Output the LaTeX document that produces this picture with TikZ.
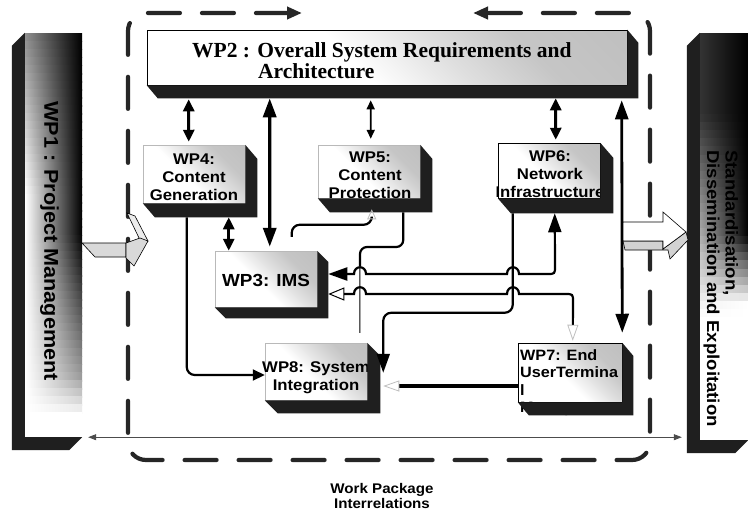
\documentclass[tikz,border=0pt]{standalone}
\usepackage{fontspec}
\newfontfamily\wpsans[FakeStretch=1.08]{Liberation Sans}
\newfontfamily\wpserif{Liberation Serif}
\usetikzlibrary{arrows.meta,calc}
\pgfdeclareverticalshading{facesh}{100bp}{color(0bp)=(white); color(45bp)=(white); color(58bp)=(gray!25); color(70bp)=(gray!45); color(100bp)=(gray!55)}
\newcommand\extrdr[3]{\fill[ext] (#1.north east) -- ++(#2,#3) -- ($(#1.south east)+(#2,#3)$) -- ($(#1.south west)+(#2,#3)$) -- (#1.south west) -- (#1.south east) -- cycle;}
\newcommand\extrdl[3]{\fill[ext] (#1.north west) -- ++(#2,#3) -- ($(#1.south west)+(#2,#3)$) -- ($(#1.south east)+(#2,#3)$) -- (#1.south east) -- (#1.south west) -- cycle;}
\begin{document}
\begin{tikzpicture}[x=1pt,y=-1pt,
  face/.style={rectangle, inner sep=0pt, shading=facesh, shading angle=-45, draw=gray!55, line width=0.5pt},
  sideface/.style={rectangle, inner sep=0pt, draw=none},
  ext/.style={fill=black!88},
  lbl/.style={inner sep=0pt, align=center, font=\wpsans\bfseries\fontsize{15.5}{18}\selectfont},
  conn/.style={line width=2.2pt, black},
  heavy/.style={line width=3pt, black},
  arrS/.tip={Triangle[length=9pt,width=8pt]},
  arrM/.tip={Triangle[length=12pt,width=11pt]},
  arrL/.tip={Triangle[length=19pt,width=13pt]},
  arrF/.tip={Triangle[open,length=16pt,width=11pt,color=gray!50,line width=0.8pt]},
  arrG/.tip={Triangle[open,length=10pt,width=9pt,color=gray!50,line width=0.8pt]},
  arrW/.tip={Triangle[fill=white,length=16pt,width=13pt,line width=1pt]},
  arrT/.tip={Triangle[length=8pt,width=6pt]},
  arrD/.tip={Triangle[length=15pt,width=12pt]}]
\useasboundingbox (0,0) rectangle (748,515);
\fill[white] (0,0) rectangle (748,515);

% dashed loop
\draw[line width=4.2pt, black!85, dash pattern=on 32pt off 22pt, line cap=round, rounded corners=18pt, {arrD}-{arrD}]
  (302,13) -- (128,13) -- (128,460) -- (650,460) -- (650,13) -- (473,13);

% WP1
\node[sideface, minimum width=57pt, minimum height=404pt] (wp1) at (53.5,235) {};
\foreach \i in {0,...,49}{
  \pgfmathsetmacro\myt{(\i+0.5)/50}
  \pgfmathsetmacro\dl{max(0,45*(1-\myt/0.4))}
  \pgfmathsetmacro\dr{max(0,min(100,100-(\myt-0.5)*171.4,40-(\myt-0.85)*400))}
  \pgfmathsetmacro\ya{33+\i*8.08}
  \pgfmathsetmacro\yb{\ya+8.7}
  \shade[left color=black!\dl, right color=black!\dr] (25,\ya) rectangle (82,\yb);
}
\node[rotate=-90, inner sep=0pt, font=\wpsans\bfseries\fontsize{20}{22}\selectfont] (wp1t) at (49.5,241) {WP1 : Project Management};
\extrdl{wp1}{-13}{13}

% WP9
\node[sideface, minimum width=48pt, minimum height=407pt] (wp9) at (724,236.5) {};
\foreach \i in {0,...,49}{
  \pgfmathsetmacro\myt{(\i+0.5)/50}
  \pgfmathsetmacro\dl{max(0,min(80,80-(\myt-0.2)*160))}
  \pgfmathsetmacro\dr{max(0,min(100,100-(\myt-0.5)*600))}
  \pgfmathsetmacro\ya{33+\i*8.14}
  \pgfmathsetmacro\yb{\ya+8.75}
  \shade[left color=black!\dl, right color=black!\dr] (700,\ya) rectangle (748,\yb);
}
\node[rotate=-90, anchor=west, align=left, inner sep=0pt, font=\wpsans\bfseries\fontsize{17.2}{18.5}\selectfont] (wp9t) at (720.7,150) {Standardisation,\\Dissemination and Exploitation};
\extrdl{wp9}{-13}{13}

% WP2
\node[face, draw=black, line width=0.6pt, minimum width=480pt, minimum height=55pt] (wp2) at (387,57.5) {};
\node[anchor=north west, align=left, inner sep=0pt, font=\wpserif\bfseries\fontsize{21.5}{18}\selectfont] (wp2t) at (192,42.5) {WP2 : Overall System Requirements and\\\hspace*{66pt}Architecture};
\extrdr{wp2}{11}{13}

% WP4
\node[face, minimum width=102pt, minimum height=58pt] (wp4) at (194,174) {};
\node[lbl] (wp4t) at (194,177) {WP4:\\Content\\Generation};
\extrdr{wp4}{12}{14}

% WP5
\node[face, minimum width=102pt, minimum height=53pt] (wp5) at (369,171.5) {};
\node[lbl] (wp5t) at (370,175) {WP5:\\Content\\Protection};
\extrdr{wp5}{12}{14}

% WP6
\node[face, draw=black, minimum width=102pt, minimum height=55pt] (wp6) at (549,170.5) {};
\node[lbl] (wp6t) at (550,174) {WP6:\\Network\\Infrastructure};
\extrdr{wp6}{13}{15}

% WP3
\node[face, minimum width=102pt, minimum height=56pt] (wp3) at (266,279) {};
\node[lbl, font=\wpsans\bfseries\fontsize{17.5}{20}\selectfont] (wp3t) at (266,280) {WP3: IMS};
\extrdr{wp3}{11}{11}

% WP8
\node[face, minimum width=102pt, minimum height=57pt] (wp8) at (316,371.5) {};
\node[lbl] (wp8t) at (316,378) {WP8: System\\Integration};
\extrdr{wp8}{13}{13}

% WP7
\node[face, draw=black, minimum width=104pt, minimum height=59pt] (wp7) at (570,372.5) {};
\node[anchor=north west, align=left, inner sep=0pt, font=\wpsans\bfseries\fontsize{15}{17.5}\selectfont] (wp7t) at (520,349) {WP7: End\\UserTermina\\l\\Management};
\extrdr{wp7}{11}{13}

% connectors
\draw[heavy, {arrM}-{arrM}] ($(wp2.south west)+(42,14)$) -- ($(wp4.north west)+(46,-3)$);
\draw[heavy, line width=3.4pt, {arrL}-{arrL}] ($(wp2.south west)+(123,13)$) -- ($(wp3.north west)+(55,-4)$);
\draw[heavy, {arrM}-{arrM}] ($(wp4.south west)+(86,14)$) -- ($(wp3.north west)+(14,0)$);
\draw[line width=1.6pt, {arrS}-{arrS}] ($(wp2.south west)+(224,15)$) -- ($(wp5.north west)+(53,-6)$);
\draw[heavy, {arrM}-{arrM}] ($(wp2.south west)+(409,13)$) -- ($(wp6.north west)+(58,-3)$);
\draw[heavy, line width=2.8pt, {arrL}-{arrL}] ($(wp2.south west)+(475,15)$) -- ($(wp7.north east)+(0,-10)$);

\draw[conn, -{arrM}, rounded corners=8pt] ($(wp4.south west)+(44,14)$) |- ($(wp8.west)+(0,3.5)$);
\draw[conn, -{arrG}, rounded corners=8pt] ($(wp3.north west)+(77,-14)$) -- ++(0,-12) -| ($(wp5.south west)+(54,11)$);
\draw[conn, rounded corners=7pt] ($(wp5.south east)+(-17,14)$) |- (360,247) -- (360,266);
\draw[line width=1pt] (360,266) -- ($(wp8.north west)+(95,-10)$);
\draw[conn, {arrL}-{arrL}] ($(wp3.east)+(11,-5)$) -- (354,274) .. controls (354,265) and (366,265) .. (366,274)
  -- (507,274) .. controls (507,265) and (519,265) .. (519,274)
  -- (547,274) .. controls (555,274) .. (555,266) -- ($(wp6.south west)+(57,15)$);
\draw[conn, {arrW}-{arrF}] ($(wp3.east)+(11,15)$) -- (354,294) .. controls (354,285) and (366,285) .. (366,294)
  -- (507,294) .. controls (507,285) and (519,285) .. (519,294)
  -- (565,294) .. controls (573,294) .. (573,302) -- ($(wp7.north west)+(55,-2)$);
\draw[conn, -{arrL}, rounded corners=8pt] ($(wp6.south west)+(15,15)$) |- ($(wp8.north east)+(16,-30)$) -- ($(wp8.north east)+(16,30)$);
\draw[line width=3.5pt, -{arrF}] ($(wp7.west)+(0,13.5)$) -- ($(wp8.east)+(16,14.5)$);
\draw[line width=0.8pt, black!70, {arrT}-{arrT}] ($(wp1.south east)+(6,0)$) -- ($(wp9.south west)+(-18,-3)$);

% block arrows
\filldraw[fill=gray!30, draw=black, line width=0.6pt] (82,243) -- (126,243) -- (126,257) -- (95,257) -- cycle;
\filldraw[fill=gray!15, draw=black, line width=0.6pt] (127,213) -- (135,216) -- (148,241) -- (140,240) -- cycle;
\filldraw[fill=gray!30, draw=black, line width=0.6pt] (126,243) -- (140,238) -- (148,241) -- (134,266) -- (126,258) -- cycle;
\filldraw[fill=gray!35, draw=black, line width=0.6pt] (623,241) -- (663,241) -- (663,249) -- (686,232) -- (688,240) -- (670,259) -- (668,250) -- (625,250) -- cycle;
\filldraw[fill=white, draw=black, line width=0.6pt] (623,222) -- (663,222) -- (663,212) -- (686,232) -- (663,249) -- (663,241) -- (623,241) -- cycle;

% caption
\node[align=center, inner sep=0pt, font=\wpsans\bfseries\fontsize{14}{15}\selectfont] (cap) at (382,495.5) {Work Package\\Interrelations};
\end{tikzpicture}
\end{document}
